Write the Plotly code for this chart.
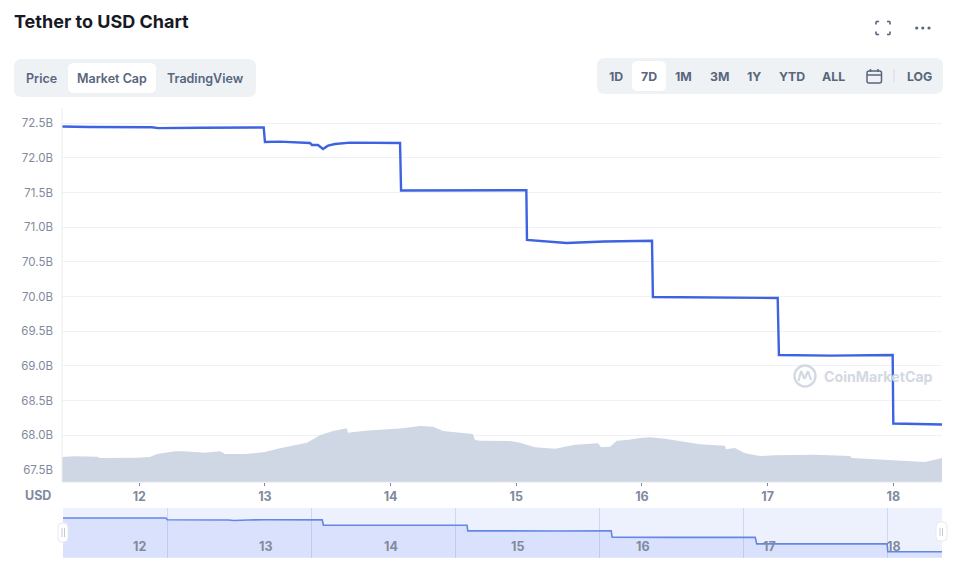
import plotly.graph_objects as go

W, H = 961, 570

# Market cap line (day of month, billions USD)
cap_days = [11.385, 11.6, 12.1, 12.15, 12.5, 12.99, 13.0, 13.119, 13.358, 13.374, 13.422, 13.462, 13.502,
            13.558, 13.677, 14.075, 14.083, 14.5, 15.08, 15.085, 15.3, 15.4, 15.7, 16.08, 16.087, 16.5,
            17.08, 17.09, 17.5, 17.995, 18.0, 18.3875]
cap_values = [72.454, 72.447, 72.443, 72.43, 72.435, 72.44, 72.23, 72.235, 72.216, 72.187, 72.187, 72.13, 72.177,
              72.20, 72.22, 72.215, 71.53, 71.53, 71.535, 70.817, 70.78, 70.773, 70.795, 70.805, 69.995, 69.99,
              69.98, 69.158, 69.15, 69.158, 68.17, 68.156]

# Grey volume area, read against the left axis
vol_days = [11.385, 11.472, 11.663, 11.687, 11.982, 12.085, 12.141, 12.284, 12.348, 12.523, 12.642, 12.682,
            12.841, 12.999, 13.119, 13.278, 13.334, 13.437, 13.541, 13.652, 13.660, 13.795, 13.994, 14.097,
            14.232, 14.337, 14.417, 14.655, 14.671, 14.711, 14.950, 15.029, 15.149, 15.308, 15.467, 15.650,
            15.674, 15.745, 15.801, 15.881, 15.984, 16.063, 16.183, 16.342, 16.461, 16.660, 16.668, 16.740,
            16.820, 16.939, 17.058, 17.376, 17.655, 17.671, 17.893, 17.973, 18.172, 18.252, 18.331, 18.3875]
vol_values = [67.687, 67.697, 67.691, 67.673, 67.677, 67.687, 67.730, 67.769, 67.769, 67.749, 67.769, 67.730,
              67.730, 67.759, 67.812, 67.870, 67.893, 68.0, 68.062, 68.101, 68.038, 68.066, 68.087, 68.101,
              68.134, 68.124, 68.062, 68.019, 67.932, 67.922, 67.918, 67.893, 67.827, 67.807, 67.864, 67.885,
              67.827, 67.836, 67.922, 67.932, 67.961, 67.971, 67.951, 67.908, 67.870, 67.850, 67.798, 67.817,
              67.740, 67.701, 67.712, 67.720, 67.701, 67.673, 67.648, 67.644, 67.625, 67.615, 67.648, 67.673]

y_ticks = [72.5, 72.0, 71.5, 71.0, 70.5, 70.0, 69.5, 69.0, 68.5, 68.0, 67.5]
y_labels = ["72.5B", "72.0B", "71.5B", "71.0B", "70.5B", "70.0B", "69.5B", "69.0B", "68.5B", "68.0B", "67.5B"]
x_ticks = [12, 13, 14, 15, 16, 17, 18]
x_labels = ["12", "13", "14", "15", "16", "17", "18"]

tabs = ["Price", "Market Cap", "TradingView"]
tab_pos = [41.6, 112, 205.5]
ranges = ["1D", "7D", "1M", "3M", "1Y", "YTD", "ALL", "LOG"]
range_pos = [616, 649, 683, 719.5, 753.5, 791.5, 833.5, 919]
# the navigator labels sit where the main axis puts them
nav_label_pos = [139.5, 265, 391, 517, 643, 769, 894]

FONT = "Inter"
DARK = "#58667e"
GREY = "#808a9d"
PILL = "#eff2f5"
LINE = "#3d63e0"


def px(x):
    return x / W


def py(y):
    return 1 - y / H


# Rounded rectangle as a shape, given in page pixels
def round_rect(x0, y0, x1, y1, r, fill, line=None, layer="above", width=1):
    a, b, c, d = px(x0), px(x1), py(y0), py(y1)
    rx, ry = r / W, r / H
    path = (f"M {a + rx} {c} L {b - rx} {c} Q {b} {c} {b} {c - ry} L {b} {d + ry} Q {b} {d} {b - rx} {d} "
            f"L {a + rx} {d} Q {a} {d} {a} {d + ry} L {a} {c - ry} Q {a} {c} {a + rx} {c} Z")
    return dict(type="path", path=path, xref="paper", yref="paper", fillcolor=fill, layer=layer,
                line=dict(color=line if line else "rgba(0,0,0,0)", width=width))


def page_line(x0, y0, x1, y1, color, width=1):
    return dict(type="line", xref="paper", yref="paper", x0=px(x0), y0=py(y0), x1=px(x1), y1=py(y1),
                line=dict(color=color, width=width))


def dot(cx, cy, r, fill, line=None, width=1):
    return dict(type="circle", xref="paper", yref="paper", x0=px(cx - r), x1=px(cx + r), y0=py(cy + r), y1=py(cy - r),
                fillcolor=fill, line=dict(color=line if line else "rgba(0,0,0,0)", width=width))


def label(text, x, y, size=12, color=DARK, weight=600, anchor="center"):
    return dict(text=text, x=px(x), y=py(y), xref="paper", yref="paper", showarrow=False, xanchor=anchor,
                yanchor="middle", font=dict(family=FONT, size=size, color=color, weight=weight))


fig = go.Figure()

fig.add_trace(go.Scatter(x=vol_days, y=vol_values, mode="lines", fill="tozeroy", line=dict(width=0, color="#cfd6e4"),
                         fillcolor="#cfd6e4", hoverinfo="skip"))
fig.add_trace(go.Scatter(x=cap_days, y=cap_values, mode="lines", line=dict(color=LINE, width=2.4)))
# navigator uses the same series on its own axes
fig.add_trace(go.Scatter(x=cap_days, y=cap_values, mode="lines", xaxis="x2", yaxis="y2", fill="tozeroy",
                         line=dict(color="#6487e6", width=1.6), fillcolor="rgba(56,97,251,0.11)"))

shapes = [
    round_rect(14, 59, 256, 97, 8, PILL),
    round_rect(68, 63, 156, 93, 6, "#ffffff"),
    round_rect(597, 58, 943, 94, 8, PILL),
    round_rect(632, 61, 666, 91, 6, "#ffffff"),
    # calendar
    round_rect(867, 71, 881.5, 83, 2, "rgba(0,0,0,0)", line=DARK, width=1.5),
    page_line(867, 75, 881.5, 75, DARK, 1.5),
    page_line(870.5, 69, 870.5, 72, DARK, 1.5),
    page_line(878, 69, 878, 72, DARK, 1.5),
    page_line(894, 69, 894, 82, "#d5dae2"),
    # expand icon
    page_line(876, 21.5, 879, 21.5, DARK, 1.6), page_line(876, 21.5, 876, 24.5, DARK, 1.6),
    page_line(887, 21.5, 890, 21.5, DARK, 1.6), page_line(890, 21.5, 890, 24.5, DARK, 1.6),
    page_line(876, 34.5, 879, 34.5, DARK, 1.6), page_line(876, 31.5, 876, 34.5, DARK, 1.6),
    page_line(887, 34.5, 890, 34.5, DARK, 1.6), page_line(890, 31.5, 890, 34.5, DARK, 1.6),
    dot(916.7, 28, 1.6, DARK), dot(922.8, 28, 1.6, DARK), dot(929, 28, 1.6, DARK),
    # plot frame
    page_line(62, 108, 62, 482, "#e9ecf1"),
    page_line(62, 482, 942, 482, "#e3e6ec"),
    # navigator background and handles
    dict(type="rect", xref="paper", yref="paper", x0=px(63), x1=px(942), y0=py(508), y1=py(557.7),
         fillcolor="#edf1fd", line=dict(width=0), layer="below"),
    round_rect(58, 523, 68, 542, 4, "#ffffff", line="#e6e9ee"),
    page_line(62, 528, 62, 537, "#c5cbd6"), page_line(64.5, 528, 64.5, 537, "#c5cbd6"),
    round_rect(936, 522, 947, 541, 4, "#ffffff", line="#e6e9ee"),
    page_line(940, 528, 940, 536, "#c5cbd6"), page_line(942.5, 528, 942.5, 536, "#c5cbd6"),
    # watermark logo
    dot(805, 376, 10.5, "rgba(0,0,0,0)", line="#d3d9e3", width=2.4),
]

logo = [(798.5, 381), (801, 371), (804.5, 379), (808, 371), (811, 380)]
for (x0, y0), (x1, y1) in zip(logo, logo[1:]):
    shapes.append(page_line(x0, y0, x1, y1, "#d3d9e3", 2.2))

annotations = [label("Tether to USD Chart", 12, 21.5, size=18, color="#171924", weight=700, anchor="left")]
annotations += [label(t, x, 78.5, size=12.5) for t, x in zip(tabs, tab_pos)]
annotations += [label(t, x, 76.5, size=12.3, weight=700) for t, x in zip(ranges, range_pos)]
annotations.append(label("USD", 38, 495.5, size=12.5, color=GREY, weight=700))
annotations.append(label("CoinMarketCap", 822, 376.5, size=14.2, color="#d3d9e3", weight=700, anchor="left"))
annotations += [label(t, x, 546, size=12.5, color=GREY, weight=700) for t, x in zip(x_labels, nav_label_pos)]

fig.update_layout(
    width=W, height=H,
    margin=dict(l=0, r=0, t=0, b=0),
    paper_bgcolor="#ffffff",
    plot_bgcolor="rgba(0,0,0,0)",
    showlegend=False,
    shapes=shapes,
    annotations=annotations,
    xaxis=dict(domain=[px(62), px(942)], range=[11.385, 18.3875], tickmode="array", tickvals=x_ticks, ticktext=x_labels,
               showgrid=False, zeroline=False, showline=False, ticks="outside", ticklen=3, tickcolor=GREY, tickwidth=1,
               tickfont=dict(family=FONT, size=12.5, color=GREY, weight=700), anchor="y"),
    yaxis=dict(domain=[py(482), py(108)], range=[67.327, 72.72], tickmode="array", tickvals=y_ticks, ticktext=y_labels,
               showgrid=True, gridcolor="#eff2f5", gridwidth=1, zeroline=False, showline=False, ticklabelstandoff=8,
               tickfont=dict(family=FONT, size=11.5, color=GREY), anchor="x"),
    xaxis2=dict(domain=[px(63), px(942)], range=[12.276, 18.376], tickmode="array", tickvals=[13, 14, 15, 16, 17, 18],
                showticklabels=False, showgrid=True, gridcolor="#cfd8f2", gridwidth=1, zeroline=False, showline=False,
                anchor="y2"),
    yaxis2=dict(domain=[py(557.7), py(508)], range=[67.40, 73.72], showticklabels=False, showgrid=False,
                zeroline=False, showline=False, anchor="x2"),
)

fig.write_html("out.html", config=dict(displayModeBar=False), post_script="document.body.style.margin='0';")
